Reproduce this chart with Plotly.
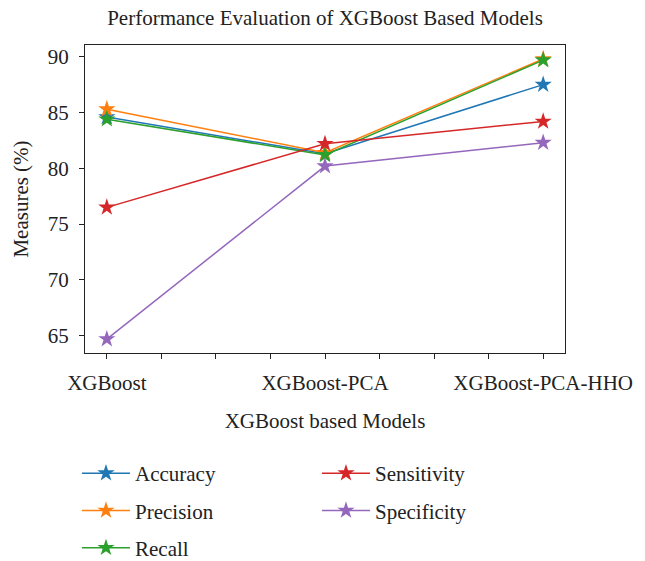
import plotly.graph_objects as go

models = ["XGBoost", "XGBoost-PCA", "XGBoost-PCA-HHO"]
accuracy = [84.6, 81.3, 87.5]
precision = [85.3, 81.4, 89.8]
recall = [84.4, 81.2, 89.7]
sensitivity = [76.5, 82.2, 84.2]
specificity = [64.7, 80.2, 82.3]

series = [
    ("Accuracy", accuracy, "#1f77b4", "legend"),
    ("Precision", precision, "#ff7f0e", "legend"),
    ("Recall", recall, "#2ca02c", "legend"),
    ("Sensitivity", sensitivity, "#d62728", "legend2"),
    ("Specificity", specificity, "#9467bd", "legend2"),
]

FONT = "Liberation Serif"
FS = 21
INK = "#222"
xpos = list(range(len(models)))

fig = go.Figure()
for name, vals, color, leg in series:
    fig.add_trace(go.Scatter(
        x=xpos, y=vals, name=name, mode="lines+markers",
        line=dict(color=color, width=1.5),
        marker=dict(symbol="star", size=13, color=color, line=dict(width=0)),
        legend=leg, legendgroup=name,
    ))

# minor ticks every quarter step, labelled only at each model
tickvals = [i * 0.25 for i in range(4 * (len(models) - 1) + 1)]
ticktext = [models[int(v)] if v == int(v) else "" for v in tickvals]

axis_common = dict(
    showgrid=False, zeroline=False, showline=True, linecolor=INK,
    linewidth=1.2, mirror=True, ticks="outside", ticklen=5, tickwidth=1.2,
    tickcolor=INK, tickfont=dict(family=FONT, size=FS, color=INK),
    automargin=False,
)

legend_common = dict(
    xref="paper", yref="container", yanchor="top", xanchor="left",
    font=dict(family=FONT, size=FS, color=INK),
    tracegroupgap=7, itemwidth=48, bgcolor="rgba(0,0,0,0)",
)

fig.update_layout(
    width=645, height=561,
    margin=dict(l=85, r=80, t=45, b=208),
    paper_bgcolor="white", plot_bgcolor="white",
    font=dict(family=FONT, color=INK),
    title=dict(text="Performance Evaluation of XGBoost Based Models",
               x=0.5, xanchor="center", xref="paper",
               y=1 - 18 / 561, yref="container", yanchor="middle",
               font=dict(family=FONT, size=FS, color=INK)),
    xaxis=dict(axis_common, range=[-0.1, 2.1], tickmode="array",
               tickvals=tickvals, ticktext=ticktext, ticklabelstandoff=6,
               title=dict(text="XGBoost based Models",
                          font=dict(family=FONT, size=FS, color=INK), standoff=19)),
    yaxis=dict(axis_common, range=[63.45, 91.05], tickmode="array",
               tickvals=[65, 70, 75, 80, 85, 90], ticklabelstandoff=6,
               title=dict(text="Measures (%)",
                          font=dict(family=FONT, size=FS, color=INK), standoff=13)),
    legend=dict(legend_common, x=-0.0167, y=1 - 453 / 561),
    legend2=dict(legend_common, x=0.4833, y=1 - 453 / 561),
)

fig.write_html("out.html")
